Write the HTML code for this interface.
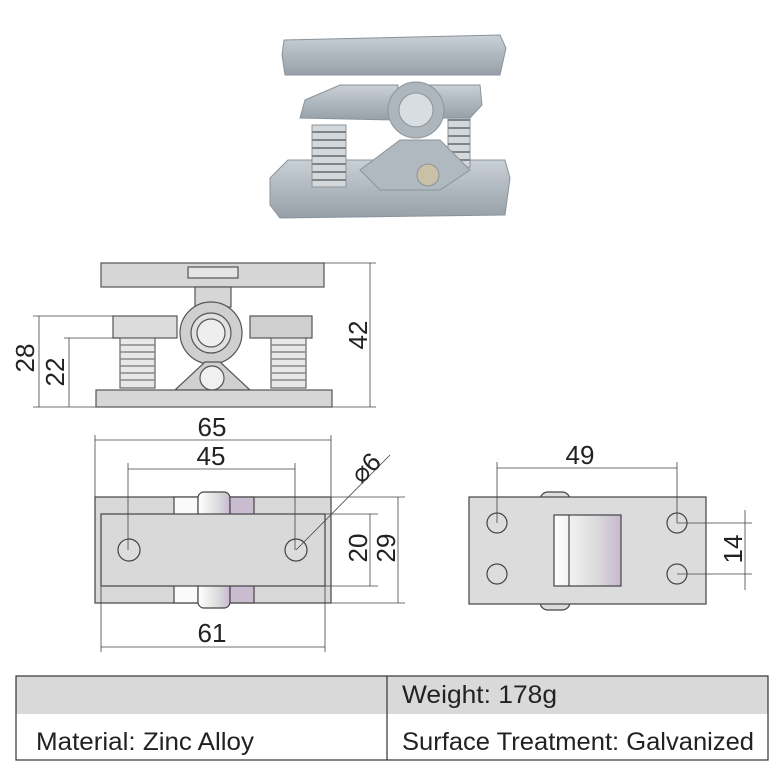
<!DOCTYPE html>
<html><head><meta charset="utf-8"><style>
html,body{margin:0;padding:0;background:#fff;width:770px;height:770px;overflow:hidden}
svg{display:block}
text{font-family:"Liberation Sans",sans-serif;fill:#222}
.t{font-family:"Liberation Sans",sans-serif;font-size:26px;fill:#222}
</style></head><body>
<svg width="770" height="770" viewBox="0 0 770 770" xmlns="http://www.w3.org/2000/svg">
<defs>
<linearGradient id="m" x1="0" y1="0" x2="0" y2="1"><stop offset="0" stop-color="#c9d0d6"/><stop offset="1" stop-color="#97a0a8"/></linearGradient>
<linearGradient id="r" x1="0" y1="0" x2="1" y2="0"><stop offset="0" stop-color="#fff"/><stop offset="0.6" stop-color="#ddd"/><stop offset="1" stop-color="#c8b8d0"/></linearGradient>
</defs>
<!-- photo -->
<g stroke="#8a939b" stroke-width="1">
<polygon points="270,178 288,160 505,160 510,178 505,215 280,218 270,205" fill="url(#m)"/>
<rect x="312" y="125" width="34" height="62" fill="#d5d8da"/>
<rect x="448" y="112" width="22" height="55" fill="#d5d8da"/>
<g stroke="#7d858c" stroke-width="2"><path d="M312 132h34M312 140h34M312 148h34M312 156h34M312 164h34M312 172h34M312 180h34M448 120h22M448 128h22M448 136h22M448 144h22M448 152h22M448 160h22"/></g>
<polygon points="305,100 340,85 398,85 395,120 300,118" fill="url(#m)"/>
<polygon points="430,85 480,85 482,105 470,118 420,118" fill="url(#m)"/>
<polygon points="360,170 400,140 440,140 470,170 440,190 380,190" fill="#b1b9c0"/>
<circle cx="416" cy="110" r="28" fill="#aeb6bd"/>
<circle cx="416" cy="110" r="17" fill="#d8dde1"/>
<circle cx="428" cy="175" r="11" fill="#c9c0a8"/>
<polygon points="284,40 500,35 506,48 500,75 285,75 282,55" fill="url(#m)"/>
</g>
<!-- side view -->
<g stroke="#555" stroke-width="1.2" fill="#d6d6d6">
<rect x="101" y="263" width="223" height="24"/>
<rect x="188" y="267" width="50" height="11" fill="#e4e4e4"/>
<rect x="113" y="316" width="64" height="22" fill="#dcdcdc"/>
<rect x="250" y="316" width="62" height="22" fill="#cfcfcf"/>
<rect x="195" y="287" width="36" height="20"/>
<g fill="#e8e8e8" stroke="#666"><rect x="120" y="338" width="35" height="50"/><rect x="271" y="338" width="35" height="50"/></g>
<g stroke="#888" stroke-width="1.5">
<path d="M120 345h35M120 352h35M120 359h35M120 366h35M120 373h35M120 380h35M271 345h35M271 352h35M271 359h35M271 366h35M271 373h35M271 380h35"/></g>
<circle cx="211" cy="333" r="31" fill="#cfcfcf"/>
<circle cx="211" cy="333" r="20" fill="#e0e0e0"/>
<circle cx="211" cy="333" r="14" fill="#eee"/>
<polygon points="175,390 205,362 220,362 250,390" fill="#d0d0d0"/>
<rect x="96" y="390" width="236" height="17"/>
<circle cx="212" cy="378" r="12" fill="#f0f0f0"/>
</g>
<!-- top view -->
<g stroke="#444" stroke-width="1.2">
<rect x="95" y="497" width="236" height="106" fill="#d8d8d8"/>
<rect x="174" y="497" width="24" height="106" fill="#fafafa"/>
<rect x="198" y="492" width="32" height="116" rx="6" fill="url(#r)"/>
<rect x="230" y="497" width="24" height="106" fill="#c9bccf"/>
<rect x="101" y="514" width="224" height="72" fill="#d9d9d9"/>
<circle cx="129" cy="550" r="11" fill="#ddd"/>
<circle cx="296" cy="550" r="11" fill="#ddd"/>
</g>
<!-- right view -->
<g stroke="#444" stroke-width="1.2">
<rect x="540" y="492" width="30" height="118" rx="8" fill="#ddd"/>
<rect x="469" y="497" width="237" height="107" fill="#dcdcdc"/>
<rect x="554" y="515" width="67" height="71" fill="url(#r)"/>
<line x1="569" y1="515" x2="569" y2="586"/>
<circle cx="497" cy="523" r="10" fill="#ddd"/><circle cx="497" cy="574" r="10" fill="#ddd"/>
<circle cx="677" cy="523" r="10" fill="#ddd"/><circle cx="677" cy="574" r="10" fill="#ddd"/>
</g>
<!-- dimension lines -->
<g stroke="#444" stroke-width="0.8" fill="none">
<path d="M324 263H376M332 407H376M370 263V407"/>
<path d="M113 316H33M96 407H33M39 316V407M120 338H64M69 338V407"/>
<path d="M95 497V435M331 497V435M95 440H331M128 550V463M295 550V463M128 469H295"/>
<path d="M331 497H405M331 603H405M398 497V603M325 514H378M325 586H378M370 514V586"/>
<path d="M101 586V652M325 586V652M101 647H325"/>
<path d="M296 550L390 455"/>
<path d="M497 523V462M677 523V462M497 468H677M677 523H752M677 574H752M745 510V590"/>
</g>
<g class="t">
<text x="212" y="436" text-anchor="middle">65</text>
<text x="211" y="465" text-anchor="middle">45</text>
<text x="212" y="642" text-anchor="middle">61</text>
<text x="580" y="464" text-anchor="middle">49</text>
<text transform="translate(367,335) rotate(-90)" text-anchor="middle">42</text>
<text transform="translate(34,358) rotate(-90)" text-anchor="middle">28</text>
<text transform="translate(64,372) rotate(-90)" text-anchor="middle">22</text>
<text transform="translate(367,548) rotate(-90)" text-anchor="middle">20</text>
<text transform="translate(395,548) rotate(-90)" text-anchor="middle">29</text>
<text transform="translate(742,549) rotate(-90)" text-anchor="middle">14</text>
<text transform="translate(372,474) rotate(-45)" text-anchor="middle">⌀6</text>
</g>
<!-- table -->
<rect x="16" y="676" width="752" height="38" fill="#d9d9d9"/>
<g stroke="#333" stroke-width="1.2" fill="none">
<rect x="16" y="676" width="752" height="84"/>
<line x1="387" y1="676" x2="387" y2="760"/>
</g>
<g font-family="Liberation Sans Narrow, Liberation Sans, sans-serif" font-size="25" fill="#222">
<text x="402" y="703" textLength="155" lengthAdjust="spacingAndGlyphs">Weight: 178g</text>
<text x="36" y="750" textLength="218" lengthAdjust="spacingAndGlyphs">Material: Zinc Alloy</text>
<text x="402" y="750" textLength="352" lengthAdjust="spacingAndGlyphs">Surface Treatment: Galvanized</text>
</g>
</svg>
</body></html>
